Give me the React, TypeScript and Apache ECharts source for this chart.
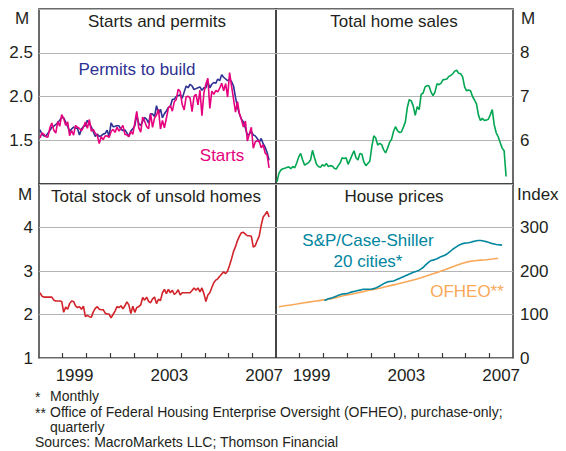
import React, { useEffect, useRef } from "react";
import * as echarts from "echarts";

// Monthly series start in January 1998 (millions unless noted)
const START_YEAR = 1998;

const permits = [
  1.62, 1.57, 1.55, 1.55, 1.58, 1.61, 1.65, 1.66, 1.68, 1.7, 1.73, 1.76,
  1.757, 1.707, 1.659, 1.6, 1.628, 1.65, 1.64, 1.635, 1.56, 1.629, 1.656, 1.666,
  1.727, 1.692, 1.651, 1.597, 1.543, 1.572, 1.542, 1.552, 1.57, 1.577, 1.614, 1.543,
  1.699, 1.656, 1.659, 1.666, 1.665, 1.626, 1.611, 1.617, 1.584, 1.546, 1.605, 1.63,
  1.665, 1.787, 1.691, 1.669, 1.716, 1.758, 1.738, 1.695, 1.803, 1.799, 1.771, 1.896,
  1.808, 1.854, 1.757, 1.803, 1.835, 1.875, 1.885, 1.966, 1.97, 2.0, 2.01, 2.02,
  1.98, 2.05, 2.12, 2.1, 2.14, 2.12, 2.08, 2.09, 2.1, 2.11, 2.07, 2.1,
  2.1, 2.17, 2.1, 2.14, 2.16, 2.15, 2.2, 2.18, 2.25, 2.22, 2.2, 2.18,
  2.2, 2.17, 2.12, 1.99, 1.88, 1.8, 1.74, 1.71, 1.64, 1.56, 1.57, 1.6,
  1.56, 1.55, 1.52, 1.48, 1.52, 1.46, 1.42, 1.36, 1.27,
];

const starts = [
  1.525, 1.584, 1.567, 1.54, 1.536, 1.641, 1.698, 1.614, 1.582, 1.715, 1.66, 1.792,
  1.748, 1.67, 1.71, 1.553, 1.611, 1.559, 1.669, 1.648, 1.635, 1.608, 1.648, 1.708,
  1.636, 1.737, 1.604, 1.626, 1.575, 1.559, 1.463, 1.541, 1.507, 1.549, 1.551, 1.532,
  1.6, 1.625, 1.59, 1.649, 1.605, 1.636, 1.67, 1.567, 1.562, 1.54, 1.602, 1.568,
  1.698, 1.829, 1.642, 1.592, 1.764, 1.717, 1.655, 1.633, 1.804, 1.648, 1.753, 1.788,
  1.853, 1.629, 1.726, 1.643, 1.751, 1.867, 1.897, 1.833, 1.939, 1.967, 2.083, 2.057,
  1.911, 1.846, 1.998, 2.003, 1.981, 1.828, 2.002, 2.024, 1.905, 2.072, 1.782, 2.042,
  2.144, 2.207, 1.864, 2.061, 2.025, 2.068, 2.054, 2.095, 2.151, 2.065, 2.147, 1.994,
  2.273, 2.119, 1.969, 1.821, 1.942, 1.802, 1.737, 1.65, 1.72, 1.491, 1.57, 1.649,
  1.409, 1.48, 1.495, 1.49, 1.415, 1.448, 1.354, 1.33, 1.183,
];

const homeSales = [
  5.05, 5.25, 5.32, 5.35, 5.36, 5.38, 5.39, 5.35, 5.4, 5.37, 5.48, 5.62,
  5.7, 5.55, 5.43, 5.46, 5.49, 5.55, 5.77, 5.6, 5.45, 5.4, 5.38, 5.44,
  5.41, 5.47, 5.4, 5.42, 5.41, 5.36, 5.34, 5.42, 5.48, 5.6, 5.58, 5.6,
  5.45, 5.55, 5.66, 5.76, 5.6, 5.55, 5.7, 5.68, 5.5, 5.42, 5.47, 5.52,
  5.85, 6.1, 6.05, 5.89, 5.93, 5.9, 5.78, 5.71, 5.82, 5.95, 6.02, 6.2,
  6.31, 6.22, 6.18, 6.19, 6.3, 6.42, 6.75, 6.93, 6.9, 6.78, 6.57, 6.77,
  6.7, 7.05, 7.08, 7.22, 7.25, 7.24, 7.1, 7.02, 7.1, 7.29, 7.27, 7.3,
  7.38, 7.39, 7.4, 7.46, 7.48, 7.52, 7.58, 7.6, 7.53, 7.52, 7.45, 7.22,
  7.13, 7.15, 7.13, 7.0, 6.92, 6.83, 6.58, 6.45, 6.5, 6.45, 6.46, 6.48,
  6.58, 6.7, 6.35, 6.17, 6.08, 5.95, 5.82, 5.76, 5.17,
];

const unsoldStock = [
  2.5, 2.42, 2.4, 2.4, 2.4, 2.4, 2.4, 2.33, 2.31, 2.31, 2.31, 2.3,
  2.05, 2.17, 2.12, 2.25, 2.31, 2.3, 2.2, 2.16, 2.18, 2.12, 2.19, 1.95,
  1.98, 1.95, 1.94, 2.06, 2.14, 2.18, 2.12, 2.11, 2.11, 2.03, 2.01, 2.01,
  1.92, 2.0, 2.08, 2.18, 2.16, 2.2, 2.13, 2.2, 2.29, 2.22, 2.02, 2.19,
  2.05, 2.16, 2.18, 2.22, 2.39, 2.33, 2.4, 2.3, 2.27, 2.36, 2.4, 2.25,
  2.35, 2.32, 2.5, 2.58, 2.48, 2.58, 2.5, 2.56, 2.46, 2.5, 2.57, 2.45,
  2.5, 2.5, 2.5, 2.5, 2.5, 2.55, 2.61, 2.56, 2.61, 2.52, 2.61, 2.48,
  2.3, 2.45, 2.5, 2.62, 2.73, 2.79, 2.82, 2.88, 2.93, 2.98, 2.94, 3.0,
  3.13, 3.28, 3.45, 3.56, 3.7, 3.8, 3.88, 3.89, 3.85, 3.81, 3.81, 3.8,
  3.55, 3.58, 3.7, 3.8, 4.05, 4.24, 4.3, 4.37, 4.24,
];

// S&P/Case-Shiller 20 cities, monthly from January 2000 (index)
const CASE_SHILLER_START = 2000;
const caseShiller = [
  132, 134, 136, 137, 138.5, 140, 142, 144, 145.5, 147, 147.5, 148,
  149, 150.5, 152, 153, 154, 155, 156, 157.5, 158, 158, 158, 158,
  158.5, 159.5, 161, 163, 165.5, 168, 171, 173, 175, 176, 176.5, 177,
  179, 181, 183, 185, 187, 189, 191, 193, 195, 197, 198.5, 200,
  202, 205, 208, 213, 217, 221, 224, 225, 226.5, 228, 230.5, 233,
  234.5, 236, 239, 242.5, 246, 250, 253, 256, 259, 261, 263, 264,
  264.5, 265, 266, 267.5, 268.5, 269.5, 270, 270, 269.5, 268.5, 267.5, 266,
  264.5, 263, 262, 261, 260.5, 260, 259,
];

// OFHEO purchase-only, quarterly from 1998 Q1 (index)
const ofheo = [
  118, 120, 122, 124, 126.5, 128.5, 130.5, 132.5, 134.5, 137, 140, 143.5,
  146, 149, 152, 155, 157.5, 160.5, 164, 167, 170, 173.5, 177, 180.5,
  184.5, 189, 193.5, 198, 203, 208, 213, 218, 221.5, 223.5, 225, 226, 227.5, 229.5,
];

const yearTicks = [1999, 2000, 2001, 2002, 2003, 2004, 2005, 2006, 2007];
const yearLabels = [1999, 2003, 2007];

const FONT = '"Liberation Sans", Arial, Helvetica, sans-serif';
const TEXT = "#231f20";

const monthly = (arr: number[], startYear: number) =>
  arr.map((v, i) => [startYear + i / 12 + 1 / 24, v]);
const quarterly = (arr: number[], startYear: number) =>
  arr.map((v, i) => [startYear + i / 4 + 1 / 8, v]);

export default function App() {
  const ref = useRef<HTMLDivElement>(null);

  useEffect(() => {
    if (!ref.current) return;
    const chart = echarts.init(ref.current, undefined, { renderer: "svg" });

    const gridBase = {
      show: true,
      borderColor: "#3a3a3a",
      borderWidth: 1.5,
      containLabel: false,
    };
    const grids = [
      { ...gridBase, left: 39, top: 9, width: 237, height: 175 },
      { ...gridBase, left: 276, top: 9, width: 237, height: 175 },
      { ...gridBase, left: 39, top: 184, width: 237, height: 174 },
      { ...gridBase, left: 276, top: 184, width: 237, height: 174 },
    ];

    const xAxisFor = (gi: number, bottom: boolean) => ({
      type: "value",
      gridIndex: gi,
      min: 1998,
      max: 2008,
      axisLine: { show: false },
      splitLine: { show: false },
      axisTick: bottom
        ? {
            show: true,
            inside: true,
            length: 5,
            customValues: yearTicks,
            lineStyle: { color: "#3a3a3a", width: 1.2 },
          }
        : { show: false },
      axisLabel: bottom
        ? {
            show: true,
            customValues: yearLabels.map((y) => y + 0.5),
            formatter: (v: number) => String(Math.floor(v)),
            fontSize: 17,
            fontFamily: FONT,
            color: TEXT,
            margin: 9,
          }
        : { show: false },
    });

    const yAxisFor = (
      gi: number,
      min: number,
      max: number,
      interval: number,
      right: boolean,
      hide: number[],
      digits: number
    ) => ({
      type: "value",
      gridIndex: gi,
      position: right ? "right" : "left",
      min,
      max,
      interval,
      axisLine: { show: false },
      axisTick: { show: false },
      splitLine: { show: true, lineStyle: { color: "#b4b4b4", width: 1 } },
      axisLabel: {
        fontSize: 17,
        fontFamily: FONT,
        color: TEXT,
        margin: right ? 7 : 6,
        formatter: (v: number) =>
          hide.some((h) => Math.abs(h - v) < 1e-9) ? "" : v.toFixed(digits),
      },
    });

    const lineSeries = (
      name: string,
      xi: number,
      data: number[][],
      color: string
    ) => ({
      name,
      type: "line",
      xAxisIndex: xi,
      yAxisIndex: xi,
      data,
      showSymbol: false,
      symbol: "none",
      lineStyle: { color, width: 1.6 },
      z: 3,
    });

    const txt = (
      text: string,
      x: number,
      y: number,
      opts: { color?: string; size?: number; align?: string } = {}
    ) => ({
      type: "text",
      z: 10,
      style: {
        text,
        x,
        y,
        fill: opts.color || TEXT,
        font: `${opts.size || 17}px ${FONT}`,
        textAlign: opts.align || "center",
        textVerticalAlign: "middle",
      },
    });

    chart.setOption({
      animation: false,
      backgroundColor: "#ffffff",
      grid: grids,
      xAxis: [
        xAxisFor(0, false),
        xAxisFor(1, false),
        xAxisFor(2, true),
        xAxisFor(3, true),
      ],
      yAxis: [
        yAxisFor(0, 1, 3, 0.5, false, [1, 3], 1),
        yAxisFor(1, 5, 9, 1, true, [5, 9], 0),
        yAxisFor(2, 1, 5, 1, false, [5], 0),
        yAxisFor(3, 0, 400, 100, true, [400], 0),
      ],
      series: [
        lineSeries("Permits to build", 0, monthly(permits, START_YEAR), "#2e3192"),
        lineSeries("Starts", 0, monthly(starts, START_YEAR), "#e6007e"),
        lineSeries("Total home sales", 1, monthly(homeSales, START_YEAR), "#00a651"),
        lineSeries("Total stock of unsold homes", 2, monthly(unsoldStock, START_YEAR), "#d2232a"),
        lineSeries("OFHEO", 3, quarterly(ofheo, START_YEAR), "#f9a959"),
        lineSeries("S&P/Case-Shiller 20 cities", 3, monthly(caseShiller, CASE_SHILLER_START), "#00859e"),
      ],
      graphic: [
        txt("M", 22, 18),
        txt("M", 528, 18),
        txt("M", 25, 194),
        txt("Index", 517, 194, { align: "left" }),
        txt("Starts and permits", 157, 21),
        txt("Total home sales", 394, 21),
        txt("Total stock of unsold homes", 156, 196),
        txt("House prices", 394, 196),
        txt("Permits to build", 137, 69, { color: "#2e3192" }),
        txt("Starts", 222, 155, { color: "#e6007e" }),
        txt("S&P/Case-Shiller", 368, 240, { color: "#00859e" }),
        txt("20 cities*", 368, 261, { color: "#00859e" }),
        txt("OFHEO**", 467, 291, { color: "#f9a959" }),
        txt("*", 35, 397, { size: 14, align: "left" }),
        txt("Monthly", 50, 396, { size: 14, align: "left" }),
        txt("**", 35, 413, { size: 14, align: "left" }),
        txt(
          "Office of Federal Housing Enterprise Oversight (OFHEO), purchase-only;",
          50,
          412,
          { size: 14, align: "left" }
        ),
        txt("quarterly", 50, 427, { size: 14, align: "left" }),
        txt("Sources: MacroMarkets LLC; Thomson Financial", 35, 442, {
          size: 14,
          align: "left",
        }),
      ],
    });

    return () => chart.dispose();
  }, []);

  return (
    <div
      ref={ref}
      style={{
        position: "fixed",
        left: 0,
        top: 0,
        width: 566,
        height: 451,
        background: "#fff",
      }}
    />
  );
}
